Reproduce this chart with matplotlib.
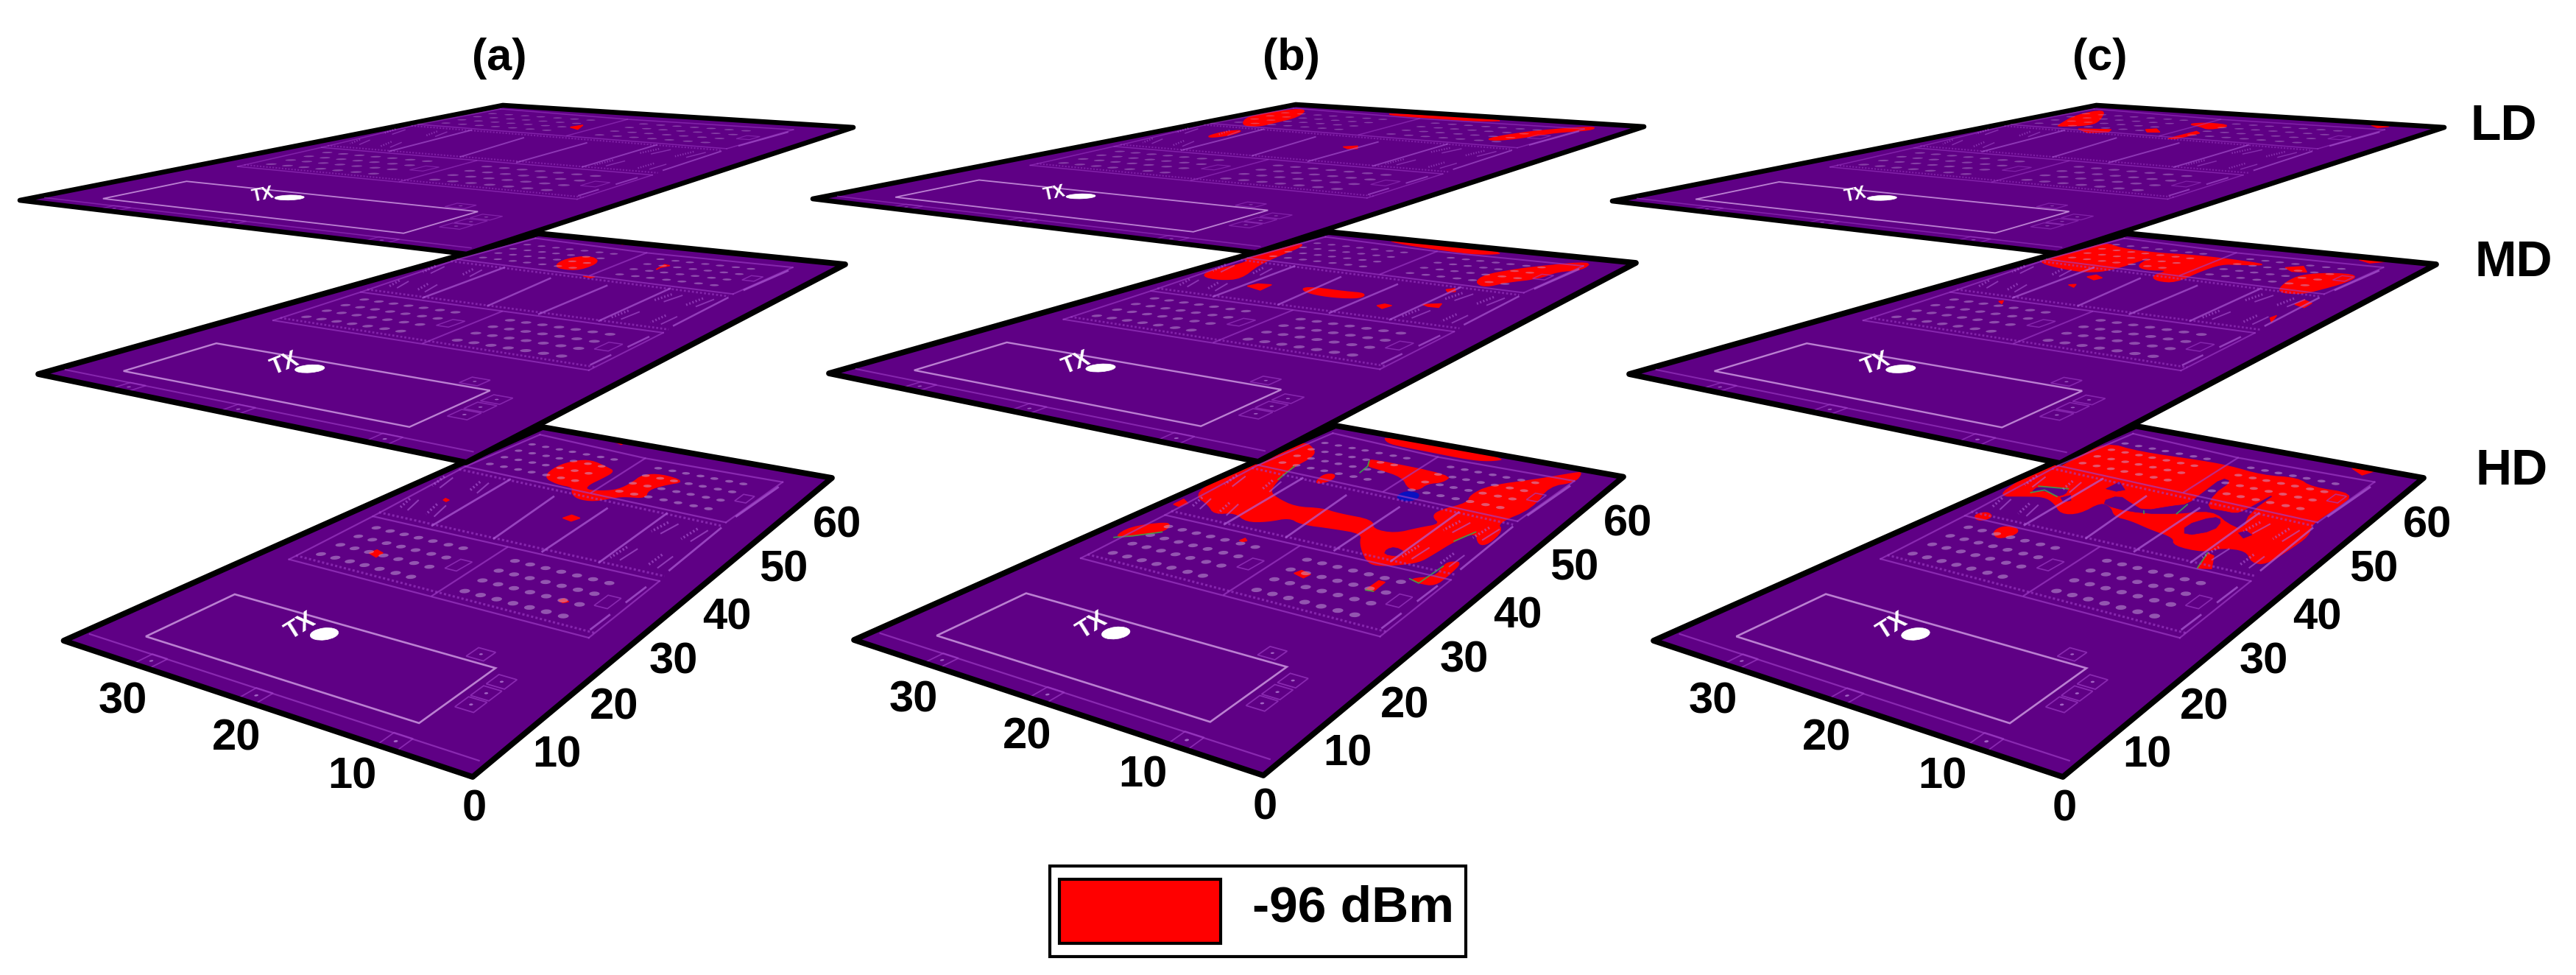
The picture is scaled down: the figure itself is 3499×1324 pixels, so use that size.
import numpy as np
import matplotlib
matplotlib.use("Agg")
import matplotlib.pyplot as plt
import matplotlib.transforms as mtransforms
from matplotlib.patches import Polygon, Rectangle, PathPatch
from matplotlib.path import Path

plt.rcParams['font.family'] = ['Liberation Sans', 'DejaVu Sans']

FLOOR_X = 36
FLOOR_Y = 63
PLATE = '#5f0085'
RED = '#ff0000'
BLUE = '#0a10c0'

COLUMNS = ['(a)', '(b)', '(c)']
ROWS = ['HD', 'MD', 'LD']
Y_TICKS = ['0', '10', '20', '30', '40', '50', '60']
X_TICKS = ['10', '20', '30']

# plate outlines on the page: (0,0), (36,0), (36,63), (0,63) corners
PLATE_CORNERS = {
    ('HD', 0): [(642, 1055), (86.5, 870), (737, 580), (1130, 649)],
    ('HD', 1): [(1716, 1053), (1160, 869), (1814, 578), (2205, 647.5)],
    ('HD', 2): [(2802, 1055), (2246, 870), (2901, 578.6), (3292, 649)],
    ('MD', 0): [(633.5, 628), (52, 508), (731, 317), (1148, 359)],
    ('MD', 1): [(1709, 627), (1126, 507), (1804, 315), (2222, 357)],
    ('MD', 2): [(2798, 629), (2213, 508), (2889, 317), (3309, 359)],
    ('LD', 0): [(633.5, 345), (27, 272), (683, 143), (1159, 173)],
    ('LD', 1): [(1705, 343), (1104, 270), (1760, 142), (2233, 172)],
    ('LD', 2): [(2794, 344), (2190, 273), (2847.5, 143), (3320, 173)],
}

# floor plan, in metres on the floor
HALL = [(31.5, 11.7), (6.6, 11.7), (6.6, 3.3), (31.5, 3.3)]
TX_POS = (20.6, 9.9)
TX_TEXT_POS = (23.0, 10.0)
FRONT_SQUARES = [(28.1, 0.9), (18.2, 0.9), (6.5, 0.9)]
SIDE_SQUARES = [(5.1, 10.3), (5.1, 8.5), (5.1, 6.8), (8.7, 12.9)]
WALLS = [
    [(35.3, 1.6), (0.7, 1.6)],
    [(32.9, 19.0), (3.3, 18.9)],
    [(33.6, 30.4), (3.5, 30.6)],
    [(17.9, 19.1), (18.5, 30.4)],
    [(32.9, 19.0), (33.6, 30.4), (35.0, 46.6), (34.6, 60.3)],
    [(3.3, 18.9), (3.5, 30.6)],
    [(35.0, 46.6), (4.3, 45.6)],
    [(34.6, 60.3), (20.0, 58.8), (4.0, 59.1)],
    [(19.4, 46.3), (20.0, 58.8)],
    [(4.0, 59.1), (4.3, 45.6)],
]
WALL_BANDS = [
    [(33.0, 19.9), (3.3, 19.8)],
    [(33.8, 31.5), (3.6, 31.7)],
    [(35.0, 45.5), (4.3, 44.6)],
]
CORRIDOR_DASHES = [
    [(28.6, 45.5), (27.4, 31.3)], [(22.0, 43.4), (20.7, 31.5)],
    [(15.8, 43.2), (15.3, 31.1)], [(10.2, 44.9), (9.8, 31.5)],
    [(3.8, 57.3), (4.1, 47.6)], [(4.1, 44.0), (3.8, 33.0)],
    [(3.9, 28.9), (3.9, 25.7)], [(3.9, 23.0), (3.9, 20.2)],
]
DESK_BARS = [
    [(33.9, 42.9), (33.2, 40.0)], [(29.8, 43.4), (29.1, 40.6)],
    [(32.7, 35.9), (31.9, 33.4)], [(29.5, 36.0), (28.7, 33.3)],
    [(8.0, 42.9), (8.3, 40.1)], [(4.9, 42.8), (5.1, 39.8)],
    [(8.4, 35.7), (8.5, 32.9)], [(4.9, 35.7), (4.9, 33.0)],
]
CORNER_MARKS = [(19.8, 25.1), (5.2, 25.0), (5.4, 52.5)]

SEAT_COLS_B = [16.2, 14.65, 13.1, 11.55, 10.0, 8.45, 6.9]
SEAT_ROWS_B = [28.2, 25.8, 23.5, 21.1]
SEAT_COLS_A = [31.4, 29.8, 28.2, 26.6, 25.0, 23.3, 21.7]
SEAT_ROWS_A = [28.3, 25.9, 23.6, 21.2]
SEAT_COLS_UL = [33.3, 31.5, 29.7, 28.0, 26.2, 24.4, 22.7]
SEAT_ROWS_UL = [56.7, 54.0, 51.3, 48.6]
SEAT_COLS_UR = [17.2, 15.5, 13.9, 12.2, 10.6, 8.9, 7.3]
SEAT_ROWS_UR = [56.5, 53.7, 50.9, 48.1]
SEATS = [(SEAT_COLS_A, SEAT_ROWS_A), (SEAT_COLS_B, SEAT_ROWS_B),
         (SEAT_COLS_UL, SEAT_ROWS_UL), (SEAT_COLS_UR, SEAT_ROWS_UR)]

# -96 dBm contours
HD_A = [
    [(26.1, 48.0), (26.8, 51.5), (26.1, 54.1), (24.7, 55.2), (21.9, 53.9), (20.7, 53.2), (20.7, 50.7),
     (20.9, 48.2), (20.3, 46.7), (18.7, 47.2), (17.5, 48.4), (17.3, 50.8), (17.6, 53.7), (16.0, 54.9),
     (12.8, 54.1), (14.2, 52.1), (14.9, 49.9), (14.0, 47.7), (15.8, 47.1), (16.7, 46.4), (17.9, 44.3),
     (19.7, 44.1), (21.1, 45.3), (21.8, 46.8), (23.8, 46.8)],
    [(18.1, 38.9), (17.8, 40.0), (16.7, 39.7), (17.0, 38.6)],
    [(28.0, 23.4), (27.9, 24.3), (27.0, 24.0), (26.9, 23.0)],
    [(26.3, 62.6), (24.7, 63.0), (24.7, 61.8)],
    [(8.7, 23.3), (8.5, 23.8), (7.9, 23.5), (8.2, 23.1)],
    [(30.7, 37.2), (30.8, 37.7), (30.2, 37.5), (30.2, 37.0)],
]
HD_B = [
    [(35.4, 55.9), (32.7, 53.9), (31.7, 51.8), (31.5, 48.2), (30.5, 43.9), (29.1, 40.6), (27.5, 39.4),
     (24.4, 38.2), (22.0, 39.2), (19.9, 38.8), (16.2, 39.0), (15.0, 37.0), (12.7, 37.1), (11.5, 39.4),
     (10.2, 41.3), (11.9, 42.7), (12.0, 44.5), (10.6, 47.6), (11.4, 49.7), (11.0, 53.2), (7.5, 57.6),
     (4.9, 61.6), (4.3, 62.1), (3.8, 58.8), (5.7, 56.3), (4.5, 49.5), (5.8, 44.3), (4.5, 42.7),
     (4.2, 39.2), (4.9, 38.5), (6.5, 41.2), (7.2, 38.2), (7.4, 34.6), (7.6, 32.5), (8.9, 31.1),
     (10.4, 30.0), (11.7, 30.5), (14.2, 33.5), (15.3, 35.7), (18.3, 35.4), (21.4, 34.8), (23.3, 35.7),
     (24.4, 33.8), (26.1, 32.8), (28.4, 34.2), (29.9, 32.9), (31.9, 34.6), (34.7, 36.0), (35.8, 40.3),
     (35.7, 43.7), (35.9, 46.5), (34.9, 47.2), (35.4, 52.8)],
    [(29.0, 62.4), (13.1, 62.3), (14.5, 60.4), (16.8, 59.8), (21.6, 60.0), (25.1, 60.1), (27.4, 60.4)],
    [(25.7, 53.8), (25.6, 54.4), (15.8, 54.1), (15.6, 51.8), (16.8, 50.6), (16.6, 48.5), (17.7, 48.3),
     (20.0, 51.1), (23.5, 52.0), (24.9, 52.2)],
    [(34.8, 33.0), (34.9, 34.6), (33.8, 33.9), (34.0, 32.8)],
    [(33.8, 23.9), (34.3, 26.5), (32.3, 29.0), (31.4, 28.6), (31.0, 27.0), (32.6, 25.0)],
    [(23.8, 28.8), (23.7, 29.5), (23.2, 29.1), (23.4, 28.7)],
    [(26.9, 45.4), (27.4, 47.7), (26.4, 48.3), (25.7, 46.7), (26.2, 44.9)],
    [(15.5, 25.3), (15.3, 26.1), (14.2, 25.8), (14.3, 24.9)],
    [(8.6, 25.4), (8.6, 27.5), (8.0, 27.5), (7.9, 25.5)],
    [(6.6, 29.1), (4.9, 30.5), (5.4, 32.8), (5.4, 33.8), (4.4, 34.4), (4.1, 31.3), (4.1, 28.9), (5.5, 28.7)],
]
HD_B_HOLES = [[(11.5, 33.6), (11.1, 34.4), (9.8, 33.9), (9.8, 32.7), (11.1, 32.5)]]
HD_B_BLUE = [[(17.6, 45.4), (17.7, 47.6), (16.1, 47.8), (15.3, 46.1), (16.0, 44.7)]]
HD_B_FRINGE = [
    [(33.8, 23.9), (32.6, 25.0), (31.0, 27.0)],
    [(25.7, 53.8), (24.9, 52.2), (24.5, 50.0)],
    [(8.6, 25.4), (7.9, 25.5)],
    [(6.6, 29.1), (5.5, 28.7), (5.4, 32.8)],
    [(6.5, 41.2), (7.2, 38.2)],
    [(31.5, 48.2), (30.5, 43.9)],
]
HD_C = [
    [(35.3, 55.9), (30.4, 54.9), (22.7, 55.8), (19.3, 55.8), (15.0, 54.9), (11.4, 56.1), (9.0, 54.2),
     (4.4, 54.7), (4.3, 50.4), (4.5, 47.0), (4.5, 44.6), (3.6, 42.1), (3.7, 38.4), (4.0, 34.3),
     (5.3, 34.1), (6.9, 36.2), (9.1, 35.7), (10.0, 34.0), (13.1, 34.0), (14.0, 35.6), (16.8, 36.2),
     (19.7, 37.2), (21.6, 37.3), (23.2, 39.2), (24.9, 39.9), (24.8, 36.2), (26.3, 35.3), (28.5, 37.3),
     (30.5, 38.3), (32.4, 37.3), (34.4, 36.1), (35.4, 40.3), (35.9, 44.7), (35.2, 47.2), (34.8, 49.0)],
    [(33.0, 31.0), (32.5, 32.2), (31.3, 31.6), (31.3, 30.4), (32.0, 30.1)],
    [(28.8, 28.5), (28.9, 30.1), (27.4, 30.4), (26.6, 29.2), (27.3, 27.4)],
    [(8.7, 30.7), (9.6, 34.0), (8.8, 33.7), (7.6, 31.2)],
    [(7.8, 62.0), (5.4, 62.2), (6.0, 60.5)],
]
HD_C_HOLES = [
    [(26.6, 45.6), (24.8, 43.9), (25.3, 43.1), (26.6, 43.2)],
    [(24.9, 39.9), (24.4, 42.3), (22.2, 41.0), (20.0, 39.9), (18.3, 42.5), (17.3, 43.5), (17.7, 47.2),
     (18.2, 52.0), (16.9, 51.6), (16.6, 47.4), (15.2, 43.5), (13.5, 43.7), (12.1, 43.7), (11.7, 44.7),
     (11.3, 51.4), (11.1, 44.7), (9.6, 40.4), (11.6, 41.2), (13.6, 42.8), (15.1, 42.7), (16.9, 40.8),
     (19.6, 39.3), (22.8, 39.0)],
    [(14.7, 38.6), (13.5, 42.0), (12.3, 41.5), (11.7, 38.8), (13.4, 36.4)],
    [(9.5, 39.5), (9.1, 40.3), (8.2, 39.7), (8.5, 38.6)],
    [(32.3, 38.5), (32.8, 40.4), (29.8, 41.3), (29.1, 39.9), (29.4, 38.9), (31.6, 39.8)],
    [(28.9, 38.8), (28.5, 39.9), (27.6, 38.7), (28.0, 38.0)],
    [(26.4, 34.5), (26.1, 35.0), (25.3, 33.5)],
]
HD_C_FRINGE = [
    [(32.3, 38.5), (31.6, 39.8), (29.4, 38.9)],
    [(32.8, 40.4), (29.8, 41.3)],
    [(8.7, 30.7), (9.6, 34.0)],
    [(17.3, 43.5), (16.9, 40.8)],
    [(20.0, 39.9), (19.6, 39.3)],
]
MD_A = [
    [(24.9, 48.9), (25.6, 52.0), (24.4, 54.6), (21.9, 52.6), (21.5, 48.0), (23.5, 47.6)],
    [(15.2, 51.8), (15.6, 54.3), (14.9, 54.1), (15.3, 52.8)],
    [(19.8, 45.7), (18.7, 46.0), (18.8, 45.4)],
    [(25.1, 62.3), (24.4, 62.4), (24.5, 61.7)],
]
MD_B = [
    [(35.1, 55.8), (33.8, 54.9), (33.0, 49.3), (32.0, 44.2), (29.7, 38.4), (31.1, 37.0), (33.6, 37.5),
     (34.5, 40.2), (33.8, 43.2), (34.1, 45.8), (35.8, 46.3), (36.0, 48.4), (35.0, 51.2)],
    [(28.2, 62.1), (12.9, 61.8), (15.4, 59.3), (19.6, 59.7), (25.0, 60.6)],
    [(4.0, 61.6), (3.4, 57.2), (5.2, 55.6), (5.5, 51.7), (7.5, 48.8), (8.3, 46.0), (10.0, 47.4),
     (10.6, 50.7), (9.3, 54.0), (7.7, 56.8)],
    [(22.5, 37.6), (21.9, 38.5), (18.4, 38.4), (16.4, 38.7), (15.8, 36.9), (18.0, 36.0), (20.8, 36.3)],
    [(27.3, 36.1), (27.0, 37.3), (25.7, 37.6), (25.3, 35.3)],
    [(13.2, 35.2), (12.9, 36.0), (12.1, 35.8), (12.3, 34.5)],
    [(10.0, 37.4), (8.7, 38.4), (8.3, 37.1), (9.3, 37.0)],
    [(10.9, 43.4), (10.4, 44.2), (9.8, 43.1), (10.3, 42.6)],
]
MD_C = [
    [(35.0, 57.2), (31.7, 55.1), (27.0, 54.7), (23.8, 55.5), (19.2, 55.5), (14.1, 54.8), (16.9, 53.6),
     (18.6, 53.0), (18.7, 48.9), (18.2, 43.5), (20.0, 43.2), (21.6, 44.8), (21.5, 48.0), (23.6, 46.9),
     (25.6, 48.5), (26.4, 53.8), (26.5, 51.5), (26.4, 45.3), (27.8, 43.3), (30.9, 43.6), (34.6, 44.9),
     (35.7, 47.2), (34.5, 50.8)],
    [(12.3, 54.4), (11.0, 55.8), (9.6, 53.5), (11.0, 53.1)],
    [(9.5, 52.0), (7.4, 54.2), (4.7, 54.5), (4.5, 51.1), (5.4, 47.0), (6.1, 44.6), (8.3, 44.3), (9.4, 48.4)],
    [(4.9, 40.8), (4.9, 42.7), (3.8, 41.9), (3.7, 40.1)],
    [(26.7, 41.6), (26.4, 42.7), (25.2, 41.9), (25.4, 40.8)],
    [(26.2, 37.9), (25.7, 38.4), (25.2, 37.3)],
    [(27.6, 29.6), (27.4, 30.0), (26.8, 29.0)],
    [(4.6, 35.5), (4.5, 36.5), (3.9, 34.3)],
    [(7.5, 61.5), (4.8, 62.0), (6.0, 60.5)],
]
LD_A = [[(21.9, 51.4), (21.6, 53.2), (20.6, 50.4)]]
LD_B = [
    [(31.9, 46.9), (34.9, 52.5), (34.7, 57.0), (33.3, 60.7), (30.6, 54.8), (30.2, 49.8), (30.1, 46.9)],
    [(30.4, 39.3), (30.8, 42.7), (29.8, 44.2), (29.0, 40.9), (29.6, 38.8)],
    [(24.5, 60.9), (12.0, 61.6), (14.3, 59.6), (18.7, 59.7), (23.3, 59.8)],
    [(3.8, 61.2), (3.1, 58.7), (5.3, 55.7), (6.0, 52.6), (7.3, 48.9), (8.7, 48.8), (8.3, 52.2), (7.0, 56.2)],
    [(16.9, 39.3), (16.1, 40.3), (15.4, 39.0), (16.1, 38.6)],
]
LD_C = [
    [(31.1, 48.6), (33.5, 55.1), (33.5, 60.6), (29.5, 53.1), (28.4, 49.6), (30.6, 47.5)],
    [(28.0, 46.9), (25.2, 47.9), (24.6, 46.4), (26.0, 45.2)],
    [(22.5, 49.3), (21.9, 50.2), (20.6, 48.5), (21.6, 48.0)],
    [(21.1, 54.5), (19.8, 56.1), (17.0, 55.3), (17.6, 51.9), (19.3, 53.5)],
    [(17.9, 45.1), (18.0, 50.4), (17.2, 49.5), (17.3, 45.4)],
    [(6.2, 61.4), (4.5, 61.3), (5.1, 60.1)],
]
RED_AREAS = {('HD', 0): HD_A, ('HD', 1): HD_B, ('HD', 2): HD_C,
             ('MD', 0): MD_A, ('MD', 1): MD_B, ('MD', 2): MD_C,
             ('LD', 0): LD_A, ('LD', 1): LD_B, ('LD', 2): LD_C}
HOLES = {('HD', 1): HD_B_HOLES, ('HD', 2): HD_C_HOLES}
BLUE_AREAS = {('HD', 1): HD_B_BLUE}
FRINGES = {('HD', 1): HD_B_FRINGE, ('HD', 2): HD_C_FRINGE}


class FloorTransform(mtransforms.Transform):
    """Perspective map from floor metres to page pixels."""
    input_dims = 2
    output_dims = 2

    def __init__(self, corners):
        super().__init__()
        src = [(0, 0), (FLOOR_X, 0), (FLOOR_X, FLOOR_Y), (0, FLOOR_Y)]
        rows, rhs = [], []
        for (x, y), (px, py) in zip(src, corners):
            rows.append([x, y, 1, 0, 0, 0, -x * px, -y * px])
            rows.append([0, 0, 0, x, y, 1, -x * py, -y * py])
            rhs += [px, py]
        self.h = np.append(np.linalg.solve(np.array(rows, float), np.array(rhs, float)), 1).reshape(3, 3)

    def transform_non_affine(self, values):
        values = np.asarray(values, float)
        pts = np.column_stack([values, np.ones(len(values))]) @ self.h.T
        return pts[:, :2] / pts[:, 2:3]


def rounded(pts, passes=2):
    # corner cutting so the traced outlines look like contours again
    pts = np.asarray(pts, float)
    if len(pts) < 5:
        return pts
    for _ in range(passes):
        nxt = np.roll(pts, -1, axis=0)
        pts = np.column_stack([0.75 * pts + 0.25 * nxt, 0.25 * pts + 0.75 * nxt]).reshape(-1, 2)
    return pts


def draw_plate(ax, row, col):
    key = (row, col)
    tr = FloorTransform(PLATE_CORNERS[key]) + ax.transData
    scale = {'HD': 1.0, 'MD': 0.9, 'LD': 0.7}[row]
    dim = {'HD': 0.5, 'MD': 0.45, 'LD': 0.38}[row]
    floor = [(0, 0), (FLOOR_X, 0), (FLOOR_X, FLOOR_Y), (0, FLOOR_Y)]
    ax.add_patch(Polygon(floor, closed=True, facecolor=PLATE, edgecolor='none', transform=tr))

    for pts in RED_AREAS[key]:
        ax.add_patch(Polygon(rounded(pts), closed=True, facecolor=RED, edgecolor=RED, lw=1.0, transform=tr))
    for pts in HOLES.get(key, []):
        ax.add_patch(Polygon(rounded(pts, 1), closed=True, facecolor=PLATE, edgecolor=PLATE, lw=0.5, transform=tr))
    for pts in BLUE_AREAS.get(key, []):
        ax.add_patch(Polygon(rounded(pts), closed=True, facecolor=BLUE, edgecolor='none', transform=tr))
    for pts in FRINGES.get(key, []):
        xs, ys = zip(*pts)
        ax.plot(xs, ys, color='#3aa850', lw=1.3, alpha=0.85, solid_capstyle='round', transform=tr)

    wall_col = '#a040c8'
    for pts in WALLS:
        xs, ys = zip(*pts)
        ax.plot(xs, ys, color=wall_col, lw=1.6 * scale, alpha=dim + 0.15, transform=tr)
    for pts in WALL_BANDS:
        xs, ys = zip(*pts)
        ax.plot(xs, ys, color=wall_col, lw=2.2 * scale, alpha=dim + 0.1, ls=(0, (1, 1)), transform=tr)
    for pts in CORRIDOR_DASHES:
        xs, ys = zip(*pts)
        ax.plot(xs, ys, color='#b060d8', lw=2.0 * scale, alpha=dim + 0.2, transform=tr)
    for pts in DESK_BARS:
        xs, ys = zip(*pts)
        ax.plot(xs, ys, color='#b060d8', lw=1.5 * scale, alpha=dim + 0.1, transform=tr)
        ax.plot(np.array(xs) + 1.0, ys, color='#b060d8', lw=2.6 * scale, alpha=dim + 0.1,
                ls=(0, (0.6, 0.8)), transform=tr)

    ax.add_patch(Polygon(HALL, closed=True, fill=False, edgecolor='#bb80d2', lw=1.9 * scale, transform=tr))

    for x0, y0 in FRONT_SQUARES + SIDE_SQUARES:
        d = 0.75
        ax.add_patch(Rectangle((x0 - d, y0 - d), 2 * d, 2 * d, fill=False, edgecolor=wall_col,
                               lw=1.3 * scale, alpha=dim + 0.15, transform=tr))
        ax.add_patch(PathPatch(Path.circle((x0, y0), 0.13), facecolor='#c090e0', edgecolor='none',
                               alpha=dim + 0.2, transform=tr))
    for x0, y0 in CORNER_MARKS:
        ax.add_patch(Rectangle((x0 - 0.6, y0 - 1.1), 1.2, 2.2, fill=False, edgecolor=wall_col,
                               lw=1.2 * scale, alpha=dim + 0.15, transform=tr))

    for cols, seat_rows in SEATS:
        circles = [Path.circle((cx, cy), 0.42) for cx in cols for cy in seat_rows]
        ax.add_patch(PathPatch(Path.make_compound_path(*circles), facecolor='#c8aadc', edgecolor='none',
                               alpha=dim, transform=tr))

    ax.add_patch(PathPatch(Path.circle(TX_POS, 1.0), facecolor='white', edgecolor='white', lw=0.5, transform=tr))
    ax.text(*TX_TEXT_POS, 'TX', transform=tr, color='white', fontweight='bold', ha='center', va='center',
            fontsize={'HD': 24, 'MD': 22, 'LD': 17}[row], rotation={'HD': 32, 'MD': 22, 'LD': 12}[row])

    # black rim last, round joins keep the sharp far corners from overshooting
    ax.add_patch(Polygon(floor, closed=True, fill=False, edgecolor='black', lw=5.6 if row != 'LD' else 4.8,
                         joinstyle='round', transform=tr))


def draw_ticks(ax, col):
    bx, by = PLATE_CORNERS[('HD', col)][0]
    y_off = [(2, 44), (114, -29), (192, -94), (273, -156), (345, -216), (422, -281), (495, -341)]
    x_off = [(-164, 0), (-321, -52), (-475, -102)]
    for lab, (dx, dy) in zip(Y_TICKS + X_TICKS, y_off + x_off):
        ax.text(bx + dx, by + dy, lab, fontsize=43, fontweight='bold', ha='center', va='center')


fig = plt.figure(figsize=(34.99, 13.24), dpi=100)
ax = fig.add_axes([0, 0, 1, 1])
ax.set_xlim(0, 3499)
ax.set_ylim(1324, 0)
ax.axis('off')

for col in range(3):
    for row in ROWS:
        draw_plate(ax, row, col)
    draw_ticks(ax, col)

for label, px in zip(COLUMNS, [678, 1754, 2852]):
    ax.text(px, 80, label, fontsize=44, fontweight='bold', ha='center', va='center')
for label, (px, py) in zip(['LD', 'MD', 'HD'], [(3401, 172), (3414, 357), (3412, 640)]):
    ax.text(px, py, label, fontsize=49, fontweight='bold', ha='center', va='center')

# legend box
ax.add_patch(Rectangle((1426, 1176), 565, 123, facecolor='white', edgecolor='black', lw=3))
ax.add_patch(Rectangle((1439, 1194), 219, 87, facecolor=RED, edgecolor='black', lw=3))
ax.text(1701, 1233, '-96 dBm', fontsize=50, fontweight='bold', ha='left', va='center')

fig.savefig('out.png', dpi=100)
